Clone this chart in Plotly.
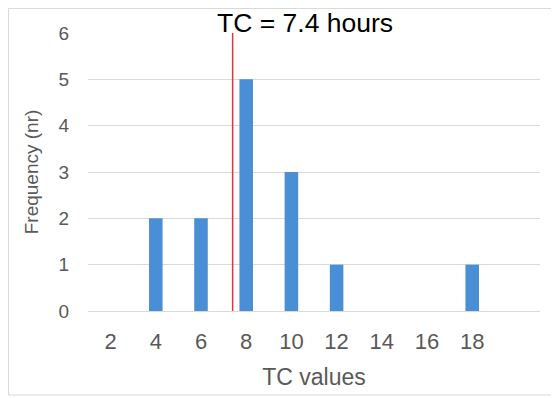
import plotly.graph_objects as go

tc_values = [2, 4, 6, 8, 10, 12, 14, 16, 18]
frequency = [0, 2, 2, 5, 3, 1, 0, 0, 1]
tc_mean = 7.4
annotation_text = "TC = 7.4 hours"

FONT = "Liberation Sans, Arial, sans-serif"
GRAY = "#595959"

# figure is offset by the page's 8px body margin; layout is computed in figure pixels
W, H = 551, 390
ML, MR, MT, MB = 80, 19, 25, 87
PW, PH = W - ML - MR, H - MT - MB


def px(x):
    return (x - ML) / PW


def py(y):
    return (H - MB - y) / PH


fig = go.Figure()
fig.add_trace(go.Bar(x=tc_values, y=frequency, width=0.6,
                     marker=dict(color="#4a8fd6", line=dict(width=0))))

fig.add_shape(type="line", xref="x", yref="y", x0=tc_mean, x1=tc_mean, y0=0, y1=6.05,
              line=dict(color="#e0353a", width=1.5))

# outer chart border
fig.add_shape(type="rect", xref="paper", yref="paper",
              x0=px(0.5), x1=px(546), y0=py(387), y1=py(0.5),
              line=dict(color="#d9d9d9", width=1), layer="below")

fig.add_annotation(text=annotation_text, xref="paper", yref="paper",
                   x=px(297), y=py(15),
                   xanchor="center", yanchor="middle", showarrow=False,
                   font=dict(family=FONT, size=26.5, color="black"))

fig.update_layout(
    width=W, height=H,
    margin=dict(l=ML, r=MR, t=MT, b=MB),
    paper_bgcolor="white", plot_bgcolor="white",
    showlegend=False,
    font=dict(family=FONT, color=GRAY, size=20),
    xaxis=dict(range=[1, 21], tickmode="array", tickvals=tc_values,
               ticktext=[str(v) for v in tc_values], automargin=False,
               showgrid=False, zeroline=False, showline=False, ticks="",
               ticklabelstandoff=15,
               tickfont=dict(size=22, color=GRAY),
               title=dict(text="TC values", font=dict(size=23, color=GRAY), standoff=15)),
    yaxis=dict(range=[0, 6], tickvals=[0, 1, 2, 3, 4, 5, 6], automargin=False,
               showgrid=True, gridcolor="#d9d9d9", gridwidth=1,
               zeroline=True, zerolinecolor="#d9d9d9", zerolinewidth=1,
               showline=False, ticks="", ticklabelstandoff=18,
               tickfont=dict(size=19, color=GRAY),
               title=dict(text="Frequency (nr)", font=dict(size=19, color=GRAY), standoff=14)),
)

fig.write_html("out.html")
